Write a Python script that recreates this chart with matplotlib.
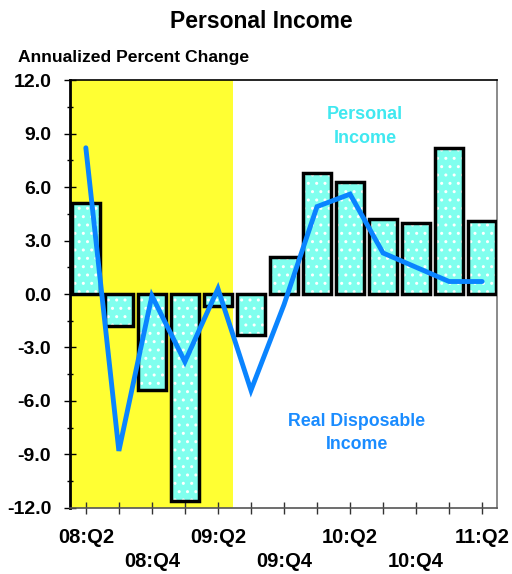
import numpy as np
import matplotlib.pyplot as plt
from matplotlib.ticker import MultipleLocator

plt.rcParams["font.family"] = ["Liberation Sans", "DejaVu Sans"]
plt.rcParams["font.weight"] = "bold"

kwartaly = ["08:Q2", "08:Q3", "08:Q4", "09:Q1", "09:Q2", "09:Q3", "09:Q4",
            "10:Q1", "10:Q2", "10:Q3", "10:Q4", "11:Q1", "11:Q2"]
dochod_osobisty = [5.1, -1.8, -5.4, -11.6, -0.7, -2.3, 2.1, 6.8, 6.3, 4.2, 4.0, 8.2, 4.1]
dochod_realny = [8.2, -8.8, -0.1, -3.8, 0.3, -5.4, -0.6, 4.9, 5.6, 2.3, 1.5, 0.7, 0.7]

x = np.arange(len(kwartaly))

fig = plt.figure(figsize=(5.12, 5.74), dpi=100)
ax = fig.add_axes([0.1367, 0.115, 0.834, 0.7456])

# recesja
ax.axvspan(-0.5, 4.45, color="#FFFF33", zorder=0, lw=0)

ax.bar(x, dochod_osobisty, width=0.85, color="#80FFEE", edgecolor="white",
       hatch="..", linewidth=0, zorder=2)
ax.bar(x, dochod_osobisty, width=0.85, facecolor="none", edgecolor="black",
       linewidth=2.5, zorder=3)
ax.plot(x, dochod_realny, color="#0A84FF", lw=3.5, solid_capstyle="round",
        solid_joinstyle="miter", zorder=4)

ax.set_xlim(-0.48, 12.45)
ax.set_ylim(-12, 12)
ax.yaxis.set_major_locator(MultipleLocator(3))
ax.yaxis.set_minor_locator(MultipleLocator(1.5))
ax.set_yticklabels([f"{v:.1f}" for v in ax.get_yticks()], fontsize=14, fontweight="bold")
ax.tick_params(axis="y", which="major", direction="inout", length=9, width=1, pad=9)
ax.tick_params(axis="y", which="minor", direction="inout", length=5, width=1)

ax.set_xticks(x)
etykiety = [k if i % 4 == 0 else ("\n" + k if i % 2 == 0 else "")
            for i, k in enumerate(kwartaly)]
ax.set_xticklabels(etykiety, fontsize=14.5, fontweight="bold", linespacing=1.3)
ax.tick_params(axis="x", direction="inout", length=9, width=1, color="#333333", pad=10)

ax.spines["left"].set_linewidth(2)
ax.spines["top"].set_linewidth(1.2)
ax.spines["right"].set_color("#777777")
ax.spines["bottom"].set_color("#555555")
ax.spines["right"].set_linewidth(1.2)
ax.spines["bottom"].set_linewidth(1.2)

ax.text(8.45, 9.4, "Personal\nIncome", color="#40E8F0", fontsize=13,
        fontweight="bold", ha="center", va="center", linespacing=1.55)
ax.text(8.2, -7.8, "Real Disposable\nIncome", color="#1A8CFF", fontsize=12.8,
        fontweight="bold", ha="center", va="center", linespacing=1.45)

fig.text(0.51, 0.963, "Personal Income", fontsize=16.5, fontweight="bold",
         ha="center", va="center")
fig.text(0.035, 0.899, "Annualized Percent Change", fontsize=12.6, fontweight="bold",
         ha="left", va="center")

fig.savefig("out.png", dpi=100)
